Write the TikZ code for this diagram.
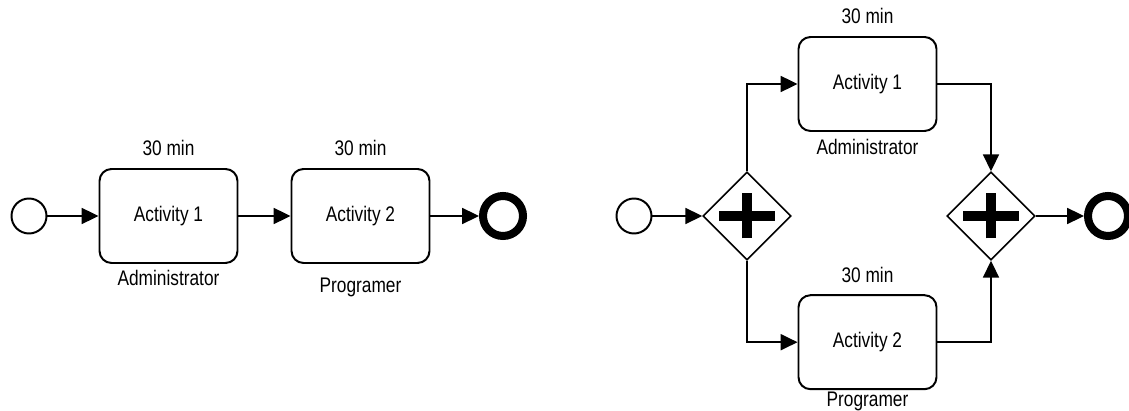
\documentclass[tikz,border=0pt]{standalone}
\usepackage{fontspec}
\setmainfont{Liberation Sans}[FakeStretch=0.82]
\usetikzlibrary{arrows.meta,positioning,shapes.geometric}

\begin{document}
\begin{tikzpicture}[font=\fontsize{15}{18}\selectfont,
    flow/.style={-{Triangle[length=0.42cm,width=0.4cm]},line width=1.1pt},
    task/.style={draw,line width=1.4pt,rounded corners=0.3cm,minimum width=3.45cm,minimum height=2.35cm,inner sep=0pt},
    lbl/.style={inner sep=0pt,outer sep=0pt},
    startev/.style={circle,draw,line width=1.4pt,minimum size=0.875cm,inner sep=0pt},
    endev/.style={circle,draw,line width=5.7pt,minimum size=1cm,inner sep=0pt},
    gate/.style={diamond,draw,line width=1.1pt,minimum size=2.2cm,inner sep=0pt}]
    \useasboundingbox (0,0) rectangle (28.225,10.275);
    \clip (0,0) rectangle (28.225,10.275);

    % sequential process
    \node[startev] (startL) at (0.725,4.875) {};
    \node[task] (act1L) at (4.2125,4.875) {Activity 1};
    \node[task] (act2L) at (9.0125,4.875) {Activity 2};
    \node[endev] (endL) at (12.575,4.875) {};
    \node[lbl,above=0.3cm of act1L] (time1L) {30 min};
    \node[lbl,above=0.3cm of act2L] (time2L) {30 min};
    \node[lbl,below=0.16cm of act1L] (role1L) {Administrator};
    \node[lbl,below=0.36cm of act2L] (role2L) {Programer};
    \draw[flow] (startL) -- (act1L);
    \draw[flow] (act1L) -- (act2L);
    \draw[flow] (act2L) -- (endL);

    % parallel process
    \node[startev] (startR) at (15.85,4.875) {};
    \node[gate] (gw1) at (18.675,4.875) {};
    \node[gate] (gw2) at (24.775,4.875) {};
    \node[task] (act1R) at (21.6875,8.175) {Activity 1};
    \node[task] (act2R) at (21.6875,1.72) {Activity 2};
    \node[endev] (endR) at (27.7,4.875) {};
    \node[lbl,above=0.3cm of act1R] (time1R) {30 min};
    \node[lbl,above=0.3cm of act2R] (time2R) {30 min};
    \node[lbl,below=0.18cm of act1R] (role1R) {Administrator};
    \node[lbl,below=0.04cm of act2R] (role2R) {Programer};
    \foreach \g in {gw1,gw2}{
      \draw[line width=0.24cm] ([xshift=-0.7cm]\g.center) -- ([xshift=0.7cm]\g.center);
      \draw[line width=0.25cm] ([yshift=-0.5625cm]\g.center) -- ([yshift=0.5625cm]\g.center);
    }
    \draw[flow] (startR) -- (gw1);
    \draw[flow] (gw1.north) |- (act1R);
    \draw[flow] (gw1.south) |- (act2R);
    \draw[flow] (act1R) -| (gw2.north);
    \draw[flow] (act2R) -| (gw2.south);
    \draw[flow] (gw2) -- (endR);
  \end{tikzpicture}
\end{document}
